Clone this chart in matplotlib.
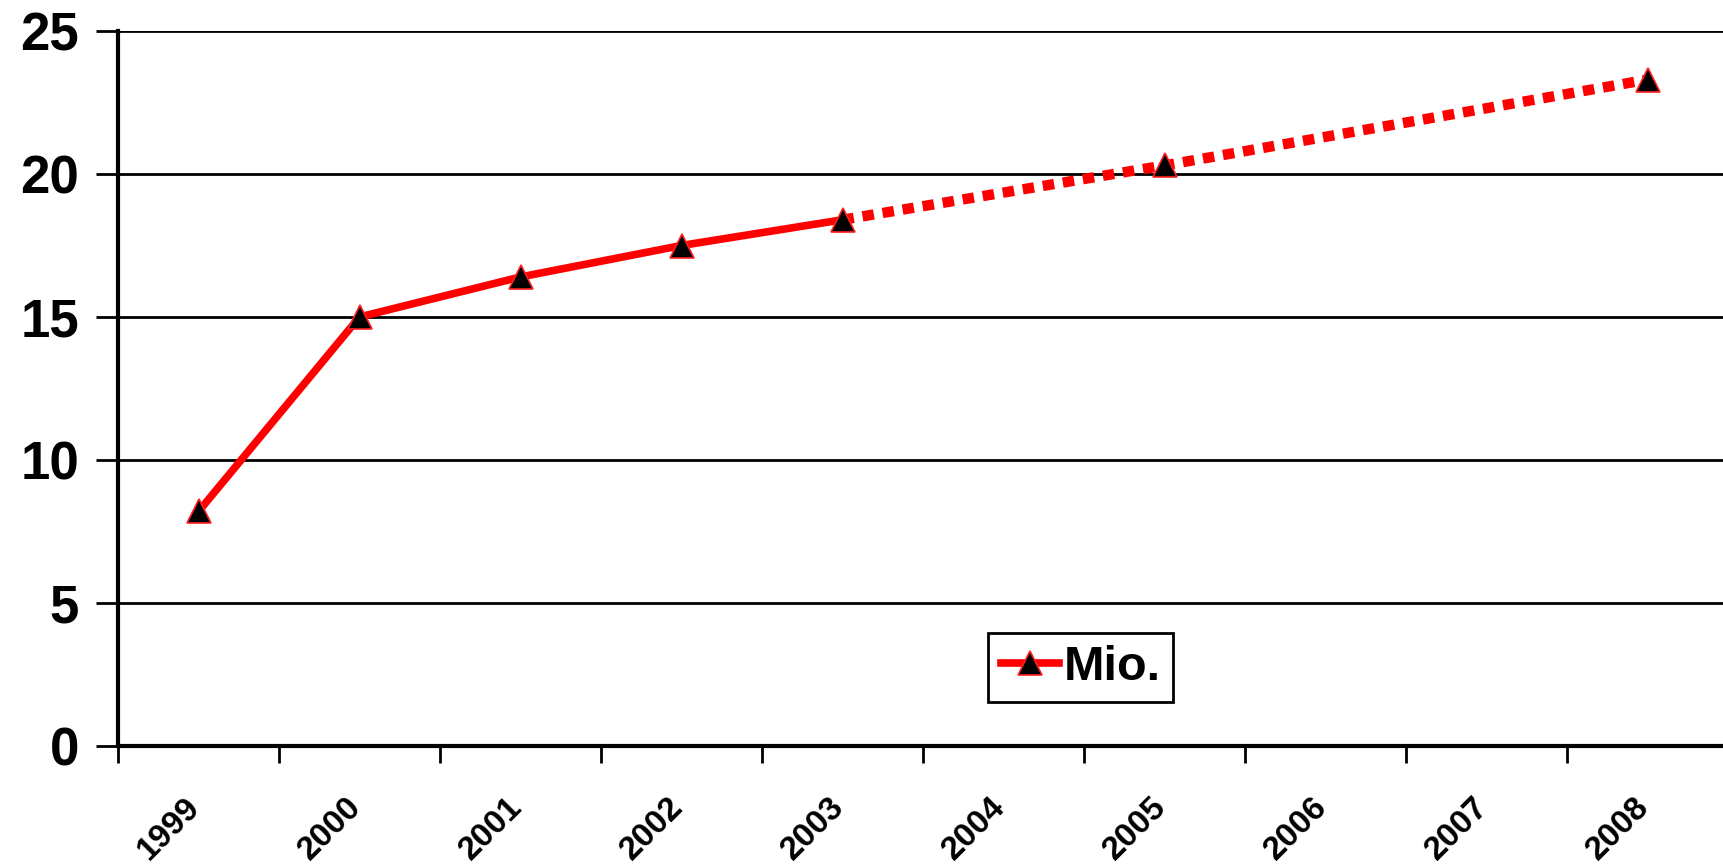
import matplotlib
matplotlib.use("Agg")
import matplotlib.pyplot as plt
from matplotlib.lines import Line2D
from matplotlib.transforms import ScaledTranslation

years = ["1999", "2000", "2001", "2002", "2003", "2004", "2005", "2006", "2007", "2008"]
actual = [8.2, 15.0, 16.4, 17.5, 18.4, None, None, None, None, None]
forecast = [None, None, None, None, 18.4, None, 20.3, None, None, 23.3]
series_name = "Mio."
y_ticks = [0, 5, 10, 15, 20, 25]

plt.rcParams['font.family'] = ['Liberation Sans', 'DejaVu Sans']
plt.rcParams['font.weight'] = 'bold'

fig = plt.figure(figsize=(17.24, 8.66), dpi=100)
ax = fig.add_axes([118/1724, 1-746/866, 1610/1724, 715/866])

ax_x = [i for i, v in enumerate(actual) if v is not None]
ax_y = [v for v in actual if v is not None]
fx = [i for i, v in enumerate(forecast) if v is not None]
fy = [v for v in forecast if v is not None]

ax.plot(fx, fy, color='#ff0000', lw=7.5, dashes=(1.1, 0.85), dash_capstyle='butt', zorder=3)
ax.plot(ax_x, ax_y, color='#ff0000', lw=5.5, solid_capstyle='butt', zorder=3)
all_x = ax_x + [x for x in fx if x not in ax_x]
all_y = ax_y + [y for x, y in zip(fx, fy) if x not in ax_x]
ax.plot(all_x, all_y, ls='none', marker='^', ms=17, mfc='black', mec='#ff2020', mew=1.2, zorder=4)

ax.set_xlim(-0.5, 9.5)
ax.set_ylim(0, 25)
ax.set_yticks(y_ticks)
ax.set_yticklabels([str(t) for t in y_ticks], fontsize=38, fontweight='bold')
ax.yaxis.grid(True, color='black', lw=2)
ax.set_axisbelow(True)

ax.set_xticks([i - 0.5 for i in range(len(years) + 1)])
ax.set_xticklabels([])
ax.tick_params(axis='x', which='major', length=12, width=2, direction='out', color='black')
ax.tick_params(axis='y', which='major', length=16, width=2, direction='out', pad=12, color='black')
ax.set_xticks(range(len(years)), minor=True)
ax.set_xticklabels(years, minor=True, rotation=45, ha='right', rotation_mode='anchor',
                   fontsize=24, fontweight='bold')
ax.tick_params(axis='x', which='minor', length=0, pad=33)
shift = ScaledTranslation(-14/100, 0, fig.dpi_scale_trans)
for lbl in ax.get_xticklabels(minor=True):
    lbl.set_transform(lbl.get_transform() + shift)

for s in ['top', 'right']:
    ax.spines[s].set_visible(False)
ax.spines['left'].set_linewidth(3)
ax.spines['bottom'].set_linewidth(3)

handle = Line2D([], [], color='#ff0000', lw=5.5, marker='^', ms=17, mfc='black', mec='#ff2020', mew=1.2)
leg = ax.legend([handle], [series_name], loc='center', bbox_to_anchor=(0.598, 0.11),
                prop={'size': 35, 'weight': 'bold'}, fancybox=False, framealpha=1,
                edgecolor='black', handlelength=1.2, handletextpad=0.1, borderpad=0.25,
                borderaxespad=0)
leg.get_frame().set_linewidth(2)

fig.savefig("out.png", dpi=100)
